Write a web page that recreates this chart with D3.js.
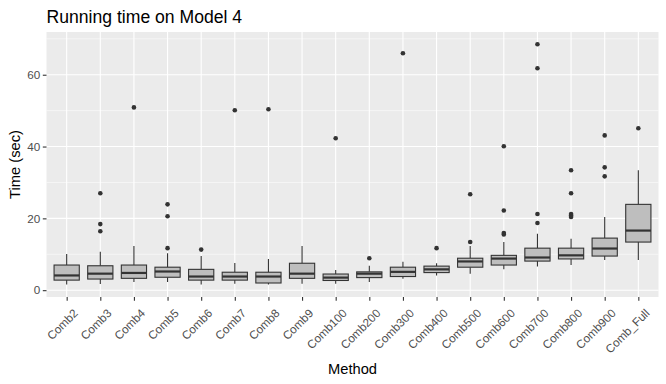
<!DOCTYPE html>
<html>
<head>
<meta charset="utf-8">
<script src="https://cdn.jsdelivr.net/npm/d3@7"></script>
<style>
  body { margin: 0; background: #fff; }
  svg { display: block; font-family: "Liberation Sans", Arial, sans-serif; }
</style>
</head>
<body>
<div id="chart"></div>
<script>
const methods = ["Comb2", "Comb3", "Comb4", "Comb5", "Comb6", "Comb7", "Comb8", "Comb9",
    "Comb100", "Comb200", "Comb300", "Comb400", "Comb500", "Comb600", "Comb700",
    "Comb800", "Comb900", "Comb_Full"];
const whiskerLow  = [1.6, 1.7, 2.3, 2.3, 1.6, 1.8, 1.6, 1.8, 1.8, 2.3, 3.2, 4.1, 4.6, 5.8, 6.6, 7.0, 8.4, 8.4];
const q1          = [2.8, 3.1, 3.3, 3.6, 2.8, 2.8, 2.0, 3.3, 2.7, 3.5, 3.8, 4.9, 6.4, 7.0, 8.1, 8.7, 9.5, 13.4];
const medians     = [4.1, 4.6, 4.8, 5.2, 3.8, 3.8, 3.8, 4.6, 3.5, 4.6, 5.1, 5.8, 8.0, 8.8, 9.1, 9.7, 11.6, 16.6];
const q3          = [7.0, 6.8, 7.0, 6.4, 5.8, 5.0, 5.0, 7.5, 4.5, 5.1, 6.4, 6.7, 8.9, 9.7, 11.7, 11.7, 14.5, 23.9];
const whiskerHigh = [10.1, 10.7, 12.3, 10.3, 9.5, 7.6, 8.7, 12.3, 5.6, 6.8, 7.9, 7.5, 12.3, 13.4, 15.7, 14.3, 20.4, 33.4];
const outliers = [
    [],
    [27.0, 18.4, 16.4],
    [50.9],
    [23.9, 20.6, 11.7],
    [11.3],
    [50.1],
    [50.4],
    [],
    [42.3],
    [8.9],
    [66.0],
    [11.7],
    [26.7, 13.4],
    [40.1, 22.2, 15.9, 15.5],
    [68.5, 61.8, 21.2, 18.7],
    [33.4, 27.0, 21.2, 20.8, 20.4],
    [43.1, 34.2, 31.7],
    [45.1]
];
const yTicks = [0, 20, 40, 60];
const yMinor = [10, 30, 50, 70];

const W = 666, H = 384;
const panel = { left: 46.5, right: 658.5, top: 32, bottom: 297 };

const svg = d3.select("#chart").append("svg")
    .attr("width", W)
    .attr("height", H);

const data = methods.map((m, i) => ({
    method: m,
    lo: whiskerLow[i], q1: q1[i], med: medians[i], q3: q3[i], hi: whiskerHigh[i],
    out: outliers[i]
}));

// discrete scale with ggplot's 0.6 expansion on each side
const x = d3.scalePoint()
    .domain(methods)
    .range([panel.left, panel.right])
    .padding(0.6);
const step = x.step();

const y = d3.scaleLinear()
    .domain([-1.9, 71.9])
    .range([panel.bottom, panel.top]);

// panel background
svg.append("rect")
    .attr("x", panel.left).attr("y", panel.top)
    .attr("width", panel.right - panel.left)
    .attr("height", panel.bottom - panel.top)
    .attr("fill", "#EBEBEB");

// grid
svg.append("g").selectAll("line")
    .data(yMinor)
    .join("line")
    .attr("x1", panel.left).attr("x2", panel.right)
    .attr("y1", d => y(d)).attr("y2", d => y(d))
    .attr("stroke", "#fff").attr("stroke-width", 0.55);

svg.append("g").selectAll("line")
    .data(yTicks)
    .join("line")
    .attr("x1", panel.left).attr("x2", panel.right)
    .attr("y1", d => y(d)).attr("y2", d => y(d))
    .attr("stroke", "#fff").attr("stroke-width", 1.1);

svg.append("g").selectAll("line")
    .data(methods)
    .join("line")
    .attr("x1", d => x(d)).attr("x2", d => x(d))
    .attr("y1", panel.top).attr("y2", panel.bottom)
    .attr("stroke", "#fff").attr("stroke-width", 1.1);

// boxes
const boxW = step * 0.75;
const boxes = svg.append("g").selectAll("g")
    .data(data)
    .join("g");

boxes.append("line")
    .attr("x1", d => x(d.method)).attr("x2", d => x(d.method))
    .attr("y1", d => y(d.hi)).attr("y2", d => y(d.q3))
    .attr("stroke", "#333").attr("stroke-width", 1.1);

boxes.append("line")
    .attr("x1", d => x(d.method)).attr("x2", d => x(d.method))
    .attr("y1", d => y(d.q1)).attr("y2", d => y(d.lo))
    .attr("stroke", "#333").attr("stroke-width", 1.1);

boxes.append("rect")
    .attr("x", d => x(d.method) - boxW / 2)
    .attr("y", d => y(d.q3))
    .attr("width", boxW)
    .attr("height", d => y(d.q1) - y(d.q3))
    .attr("fill", "#BEBEBE")
    .attr("stroke", "#333").attr("stroke-width", 1.1);

boxes.append("line")
    .attr("x1", d => x(d.method) - boxW / 2).attr("x2", d => x(d.method) + boxW / 2)
    .attr("y1", d => y(d.med)).attr("y2", d => y(d.med))
    .attr("stroke", "#333").attr("stroke-width", 2.2);

boxes.selectAll("circle")
    .data(d => d.out.map(v => ({ method: d.method, v: v })))
    .join("circle")
    .attr("cx", d => x(d.method))
    .attr("cy", d => y(d.v))
    .attr("r", 2.3)
    .attr("fill", "#333");

// y axis
const yAxis = svg.append("g")
    .attr("transform", `translate(${panel.left},0)`)
    .call(d3.axisLeft(y).tickValues(yTicks).tickSize(3.7).tickPadding(2.5));
yAxis.select(".domain").remove();
yAxis.selectAll(".tick line").attr("stroke", "#333").attr("stroke-width", 1.1);
yAxis.selectAll(".tick text")
    .attr("fill", "#4D4D4D")
    .style("font-size", "11.7px")
    .style("font-family", "'Liberation Sans', Arial, sans-serif");

// x axis
const xAxis = svg.append("g")
    .attr("transform", `translate(0,${panel.bottom})`)
    .call(d3.axisBottom(x).tickSize(3.7).tickFormat(""));
xAxis.select(".domain").remove();
xAxis.selectAll(".tick line").attr("stroke", "#333").attr("stroke-width", 1.1);

svg.append("g").selectAll("text")
    .data(methods)
    .join("text")
    .attr("transform", d => `translate(${x(d) + 6},${panel.bottom + 11}) rotate(-45)`)
    .attr("text-anchor", "end")
    .attr("dy", "0.72em")
    .attr("fill", "#4D4D4D")
    .style("font-size", "11.7px")
    .text(d => d);

// titles
svg.append("text")
    .attr("x", panel.left)
    .attr("y", 23)
    .attr("fill", "#000")
    .style("font-size", "17.6px")
    .text("Running time on Model 4");

svg.append("text")
    .attr("x", (panel.left + panel.right) / 2)
    .attr("y", 374)
    .attr("text-anchor", "middle")
    .attr("fill", "#000")
    .style("font-size", "14.7px")
    .text("Method");

svg.append("text")
    .attr("transform", `translate(20,${(panel.top + panel.bottom) / 2}) rotate(-90)`)
    .attr("text-anchor", "middle")
    .attr("fill", "#000")
    .style("font-size", "14.7px")
    .text("Time (sec)");
</script>
</body>
</html>
